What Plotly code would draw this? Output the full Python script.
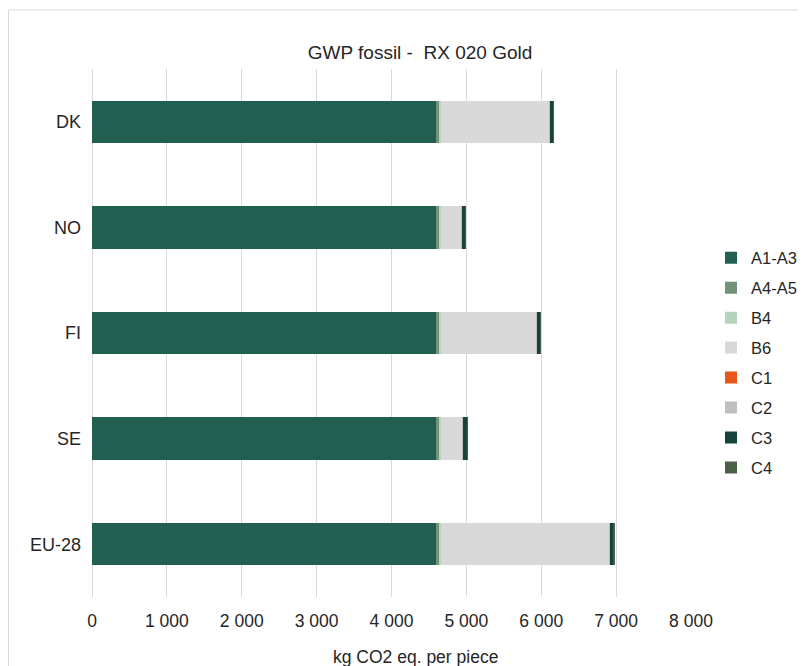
import plotly.graph_objects as go

countries = ["DK", "NO", "FI", "SE", "EU-28"]
series_names = ["A1-A3", "A4-A5", "B4", "B6", "C1", "C2", "C3", "C4"]
a1_a3 = [4600, 4600, 4600, 4600, 4600]
a4_a5 = [45, 45, 45, 45, 45]
b4 = [22, 22, 22, 22, 22]
b6 = [1440, 265, 1265, 285, 2245]
c1 = [1, 1, 1, 1, 1]
c2 = [8, 8, 8, 8, 8]
c3 = [50, 50, 50, 50, 50]
c4 = [4, 4, 4, 4, 4]
values = [a1_a3, a4_a5, b4, b6, c1, c2, c3, c4]
colors = ["#215F51", "#74917A", "#B5D4BC", "#D9D9DA", "#E8561A", "#BFBFBF", "#16443A", "#4B5E48"]
x_ticks = [0, 1000, 2000, 3000, 4000, 5000, 6000, 7000, 8000]

FONT = "Liberation Sans, Arial, sans-serif"
TXT = "#262626"

fig = go.Figure()
for name, vals, col in zip(series_names, values, colors):
    fig.add_trace(go.Bar(
        y=countries, x=vals, name=name, orientation="h",
        marker=dict(color=col, line=dict(width=0)),
        legendgroup=name,
    ))

# figure is placed with an 8px page margin; layout numbers are in figure px
L, R, T, B = 84, 10, 61, 77
PW = 806 - L - R
PH = 666 - T - B

fig.update_layout(
    width=806, height=666,
    barmode="stack", bargap=0.6,
    plot_bgcolor="white", paper_bgcolor="white",
    font=dict(family=FONT, size=17.5, color=TXT),
    separators=". ",
    margin=dict(l=L, r=R, t=T, b=B, autoexpand=False),
    title=dict(text="GWP fossil - \u00a0RX 020 Gold", x=412/806, xref="container", xanchor="center",
               y=1 - 44/666, yref="container", yanchor="middle",
               font=dict(size=19, color=TXT)),
    legend=dict(x=(703 - L)/PW, y=(589 - 355)/PH, xanchor="left", yanchor="middle",
                traceorder="grouped", tracegroupgap=5.5,
                font=dict(size=16.5, color=TXT), itemwidth=30),
    xaxis=dict(domain=[0, 599/PW], range=[0, 8000], tickvals=x_ticks,
               tickformat=",d", showgrid=True, gridcolor="#D9D9D9", gridwidth=1,
               zeroline=True, zerolinecolor="#D9D9D9", zerolinewidth=1,
               showline=False, ticks="", ticklabelstandoff=11, automargin=False,
               tickfont=dict(size=17.5)),
    yaxis=dict(categoryorder="array", categoryarray=countries, autorange="reversed",
               showgrid=False, showline=False, ticks="", ticklabelstandoff=10,
               automargin=False, tickfont=dict(size=18)),
    annotations=[dict(text="kg CO2 eq. per piece", xref="paper", yref="paper",
                      x=(407 - L)/PW, y=(589 - 649)/PH, xanchor="center", yanchor="middle",
                      showarrow=False, font=dict(size=17.5, color=TXT))],
    shapes=[dict(type="rect", xref="paper", yref="paper",
                 x0=(0.5 - L)/PW, x1=1.2, y0=-0.3, y1=(589 - 2)/PH,
                 line=dict(color="#D9D9D9", width=1), fillcolor="rgba(0,0,0,0)", layer="below")],
)

fig.write_html("out.html")
